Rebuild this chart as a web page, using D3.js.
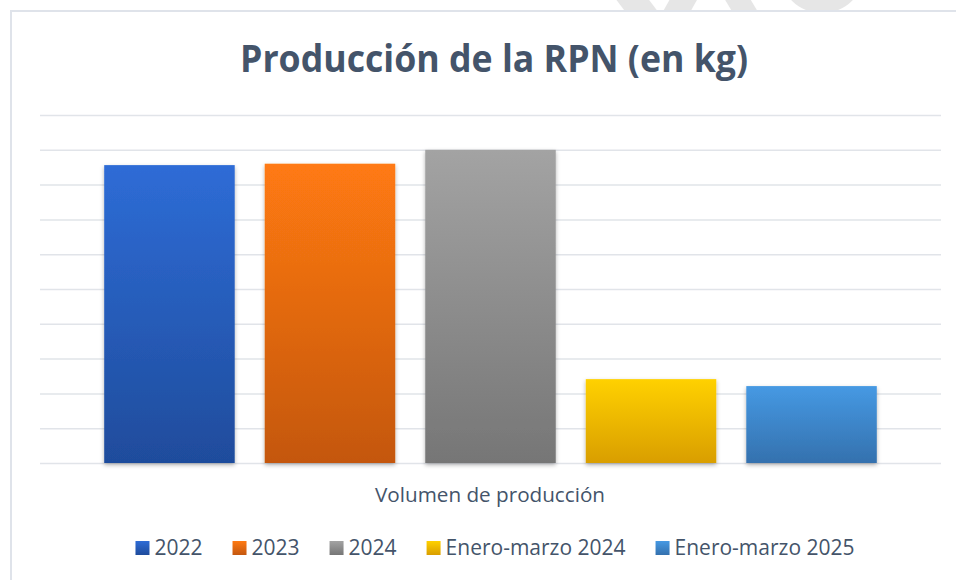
<!DOCTYPE html>
<html lang="es">
<head>
<meta charset="UTF-8">
<title>Producción de la RPN</title>
<script src="https://cdn.jsdelivr.net/npm/d3@7"></script>
<style>
  body { margin: 0; background: #fff; }
  text { font-family: "Open Sans", "Noto Sans", sans-serif; }
</style>
</head>
<body>
<script>
  // datos (kg, estimados: el eje no tiene etiquetas)
  var series = ['2022', '2023', '2024', 'Enero-marzo 2024', 'Enero-marzo 2025'];
  var values = [8560, 8600, 9000, 2410, 2210];
  var yTicks = [0, 1000, 2000, 3000, 4000, 5000, 6000, 7000, 8000, 9000, 10000];
  var topColors = ['#2e6cd6', '#ff7a12', '#a3a3a3', '#ffd100', '#4699e3'];
  var bottomColors = ['#1f4c9c', '#c4570f', '#767676', '#d99e00', '#3471ae'];

  var width = 956, height = 580;
  var textColor = '#44546a';

  var svg = d3.select('body').append('svg')
      .attr('width', width)
      .attr('height', height);

  var defs = svg.append('defs');

  // degradados de cada barra
  series.forEach(function(s, i) {
    var g = defs.append('linearGradient')
        .attr('id', 'grad' + i)
        .attr('x1', 0).attr('y1', 0).attr('x2', 0).attr('y2', 1);
    g.append('stop').attr('offset', '0%').attr('stop-color', topColors[i]);
    g.append('stop').attr('offset', '100%').attr('stop-color', bottomColors[i]);
  });

  var shadow = defs.append('filter').attr('id', 'shadow')
      .attr('x', '-10%').attr('y', '-10%').attr('width', '120%').attr('height', '120%');
  shadow.append('feDropShadow')
      .attr('dx', 0).attr('dy', 2).attr('stdDeviation', 2)
      .attr('flood-color', '#000').attr('flood-opacity', 0.3);

  defs.append('clipPath').attr('id', 'topclip')
      .append('rect').attr('x', 0).attr('y', 0).attr('width', width).attr('height', 10);

  // marca de agua que asoma por encima del gráfico
  var wm = svg.append('g').attr('clip-path', 'url(#topclip)')
      .attr('fill', 'none').attr('stroke', '#e6e6e6');
  wm.append('line').attr('x1', 610).attr('y1', -30).attr('x2', 648).attr('y2', 20).attr('stroke-width', 26);
  wm.append('line').attr('x1', 700).attr('y1', -30).attr('x2', 672).attr('y2', 20).attr('stroke-width', 24);
  wm.append('line').attr('x1', 720).attr('y1', -30).attr('x2', 750).attr('y2', 20).attr('stroke-width', 22);
  wm.append('circle').attr('cx', 822).attr('cy', -30).attr('r', 32).attr('stroke-width', 22);

  // marco del área del gráfico
  svg.append('rect')
      .attr('x', 11).attr('y', 11)
      .attr('width', 1000).attr('height', 700)
      .attr('fill', '#fff')
      .attr('stroke', '#dfe3ea')
      .attr('stroke-width', 2);

  var plot = { left: 40, right: 941, top: 115, bottom: 463 };

  var x = d3.scaleBand()
      .domain(series)
      .range([plot.left, plot.right])
      .paddingInner(0.187)
      .paddingOuter(0.4);

  var y = d3.scaleLinear()
      .domain([0, 10000])
      .range([plot.bottom, plot.top]);

  // líneas de cuadrícula
  svg.append('g')
      .attr('transform', 'translate(' + plot.left + ',0)')
      .call(d3.axisLeft(y).tickValues(yTicks).tickSize(-(plot.right - plot.left)).tickFormat(''))
      .call(function(g) { g.select('.domain').remove(); })
      .selectAll('.tick line')
      .attr('stroke', '#e1e4e9')
      .attr('stroke-width', 1.5);

  // barras
  svg.append('g').selectAll('rect')
      .data(values)
      .enter().append('rect')
      .attr('x', function(d, i) { return x(series[i]); })
      .attr('y', function(d) { return y(d); })
      .attr('width', x.bandwidth())
      .attr('height', function(d) { return y(0) - y(d); })
      .attr('fill', function(d, i) { return 'url(#grad' + i + ')'; })
      .attr('filter', 'url(#shadow)');

  // título
  svg.append('text')
      .attr('x', 494).attr('y', 72)
      .attr('text-anchor', 'middle')
      .attr('font-size', 38)
      .attr('font-weight', 700)
      .attr('fill', textColor)
      .attr('textLength', 508)
      .attr('lengthAdjust', 'spacingAndGlyphs')
      .text('Producción de la RPN (en kg)');

  // título del eje horizontal
  svg.append('text')
      .attr('x', 490).attr('y', 502)
      .attr('text-anchor', 'middle')
      .attr('font-size', 20)
      .attr('fill', textColor)
      .attr('textLength', 230)
      .attr('lengthAdjust', 'spacingAndGlyphs')
      .text('Volumen de producción');

  // leyenda
  var legend = svg.append('g');
  var items = legend.selectAll('g')
      .data(series)
      .enter().append('g');
  items.append('rect')
      .attr('y', 541)
      .attr('width', 14).attr('height', 14)
      .attr('fill', function(d, i) { return 'url(#grad' + i + ')'; });
  items.append('text')
      .attr('x', 19).attr('y', 555)
      .attr('font-size', 21)
      .attr('fill', textColor)
      .text(function(d) { return d; });

  var pos = 0;
  var offsets = [];
  items.each(function() {
    offsets.push(pos);
    pos += 19 + this.querySelector('text').getComputedTextLength() + 30;
  });
  var total = pos - 30;
  var start = 495 - total / 2;
  items.attr('transform', function(d, i) { return 'translate(' + (start + offsets[i]) + ',0)'; });
</script>
</body>
</html>
